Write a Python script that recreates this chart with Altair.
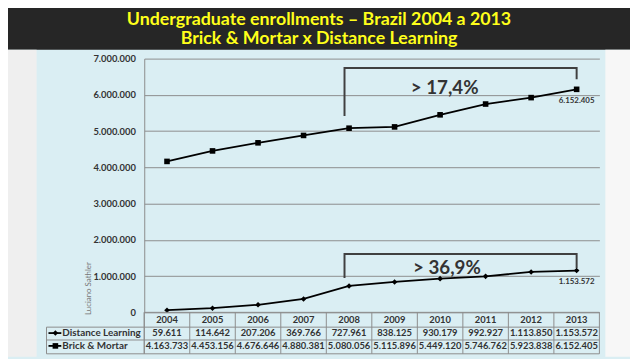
import altair as alt
import pandas as pd

years = [2004, 2005, 2006, 2007, 2008, 2009, 2010, 2011, 2012, 2013]
distance = [59611, 114642, 207206, 369766, 727961, 838125, 930179, 992927, 1113850, 1153572]
brick = [4163733, 4453156, 4676646, 4880381, 5080056, 5115896, 5449120, 5746762, 5923838, 6152405]
series_names = ["Distance Learning", "Brick & Mortar"]
title_lines = ["Undergraduate enrollments \u2013 Brazil 2004 a 2013",
               "Brick & Mortar x Distance Learning"]
y_ticks = [0, 1000000, 2000000, 3000000, 4000000, 5000000, 6000000, 7000000]
growth_labels = ["> 17,4%", "> 36,9%"]
growth_x = [2010.1, 2010.15]
growth_y = [6180000, 1220000]
# bracket paths (year, value)
bracket_bm = [(2007.9, 5420000), (2007.9, 6740000), (2013.0, 6740000), (2013.0, 6430000)]
bracket_dl = [(2007.9, 950000), (2007.9, 1610000), (2013.0, 1610000), (2013.0, 1220000)]
author = "Luciano Sathler"

FONT = "Lato"
TXT = "#333333"
GRID = "#8c8c8c"


def fmt(v):
    return f"{v:,}".replace(",", ".")


rows = []
for i, yr in enumerate(years):
    rows.append({"year": yr, "series": series_names[0], "value": distance[i], "label": fmt(distance[i])})
    rows.append({"year": yr, "series": series_names[1], "value": brick[i], "label": fmt(brick[i])})
df = pd.DataFrame(rows)

xs = alt.Scale(domain=[2003.5, 2013.5], nice=False, zero=False)
ys = alt.Scale(domain=[0, 7000000], nice=False)
X = alt.X("year:Q", scale=xs, axis=None)
YAX = alt.Axis(
    values=y_ticks,
    labelExpr="replace(format(datum.value, ','), /,/g, '.')",
    labelOverlap=False, tickCount=8,
    grid=True, gridColor=GRID, gridWidth=1, domainColor=GRID, domainWidth=1,
    ticks=False, labelFont=FONT, labelFontSize=9.5, labelFontWeight="bold",
    labelColor=TXT, labelPadding=9, title=None)
Y = alt.Y("value:Q", scale=ys, axis=YAX)

one = pd.DataFrame({"a": [0]})

# backgrounds
band = alt.Chart(one).mark_rect(color="#262626").encode(
    x=alt.value(-146), x2=alt.value(492), y=alt.value(-57), y2=alt.value(-9))
left_strip = alt.Chart(one).mark_rect(color="#efefef").encode(
    x=alt.value(-146), x2=alt.value(-109), y=alt.value(-9), y2=alt.value(302))
right_strip = alt.Chart(one).mark_rect(color="#f7f7f7").encode(
    x=alt.value(467), x2=alt.value(492), y=alt.value(-9), y2=alt.value(302))

title_df = pd.DataFrame({"t": title_lines, "i": [0, 1]})
title1 = alt.Chart(title_df[title_df.i == 0]).mark_text(
    font=FONT, fontSize=18, fontWeight="bold", color="#ffff1a", align="center", baseline="middle"
).encode(text="t:N", x=alt.value(177), y=alt.value(-39.5))
title2 = alt.Chart(title_df[title_df.i == 1]).mark_text(
    font=FONT, fontSize=18, fontWeight="bold", color="#ffff1a", align="center", baseline="middle"
).encode(text="t:N", x=alt.value(177), y=alt.value(-19.5))

lines = alt.Chart(df).mark_line(color="black", strokeWidth=1.8).encode(
    x=X, y=Y, detail="series:N")
points = alt.Chart(df).mark_point(filled=True, color="black", size=32, opacity=1).encode(
    x=X, y=Y,
    shape=alt.Shape("series:N", scale=alt.Scale(domain=series_names, range=["diamond", "square"]), legend=None),
)

# brackets
br_rows = []
for k, path in enumerate([bracket_bm, bracket_dl]):
    for j, (bx, by) in enumerate(path):
        br_rows.append({"b": k, "o": j, "year": bx, "value": by})
br_df = pd.DataFrame(br_rows)
brackets = alt.Chart(br_df).mark_line(color="#404040", strokeWidth=2).encode(
    x=X, y=Y, detail="b:N", order="o:Q")

gl_df = pd.DataFrame({"year": growth_x, "value": growth_y, "t": growth_labels})
growth = alt.Chart(gl_df).mark_text(font=FONT, fontSize=19, fontWeight="bold", color=TXT,
                                    align="center", baseline="middle").encode(
    x=X, y=Y, text="t:N")

last = df[df.year == years[-1]]
end_labels = alt.Chart(last).mark_text(font=FONT, fontSize=8, fontWeight="bold", color=TXT,
                                       align="center", baseline="middle", dy=12).encode(
    x=X, y=Y, text="label:N")

# table
row_y = {series_names[0]: 278, series_names[1]: 291}
year_df = pd.DataFrame({"year": years, "t": [str(y) for y in years]})
year_row = alt.Chart(year_df).mark_text(font=FONT, fontSize=9.5, fontWeight="bold", color=TXT,
                                        baseline="middle").encode(x=X, y=alt.value(265), text="t:N")
dl_row = alt.Chart(df[df.series == series_names[0]]).mark_text(
    font=FONT, fontSize=9.5, fontWeight="bold", color=TXT, baseline="middle").encode(
    x=X, y=alt.value(row_y[series_names[0]]), text="label:N")
bm_row = alt.Chart(df[df.series == series_names[1]]).mark_text(
    font=FONT, fontSize=9.5, fontWeight="bold", color=TXT, baseline="middle").encode(
    x=X, y=alt.value(row_y[series_names[1]]), text="label:N")

bounds = pd.DataFrame({"year": [y - 0.5 for y in years] + [years[-1] + 0.5]})
vlines = alt.Chart(bounds).mark_rule(color=GRID, strokeWidth=1).encode(
    x=X, y=alt.value(257), y2=alt.value(299))
axis_ext = alt.Chart(one).mark_rule(color=GRID).encode(x=alt.value(0), y=alt.value(257), y2=alt.value(299))
left_v = alt.Chart(one).mark_rule(color=GRID).encode(x=alt.value(-99), y=alt.value(272), y2=alt.value(299))
h0 = alt.Chart(one).mark_rule(color=GRID).encode(x=alt.value(0), x2=alt.value(461), y=alt.value(257))
h1 = alt.Chart(one).mark_rule(color=GRID).encode(x=alt.value(-99), x2=alt.value(461), y=alt.value(272))
h2 = alt.Chart(one).mark_rule(color=GRID).encode(x=alt.value(-99), x2=alt.value(461), y=alt.value(285))
h3 = alt.Chart(one).mark_rule(color=GRID).encode(x=alt.value(-99), x2=alt.value(461), y=alt.value(299))

names_df = pd.DataFrame({"t": series_names})
name1 = alt.Chart(names_df.iloc[[0]]).mark_text(font=FONT, fontSize=10, fontWeight="bold", color=TXT,
                                                 align="left", baseline="middle").encode(
    text="t:N", x=alt.value(-83), y=alt.value(278))
name2 = alt.Chart(names_df.iloc[[1]]).mark_text(font=FONT, fontSize=10, fontWeight="bold", color=TXT,
                                                 align="left", baseline="middle").encode(
    text="t:N", x=alt.value(-83), y=alt.value(291))
sym_l1 = alt.Chart(one).mark_rule(color="black", strokeWidth=1.8).encode(
    x=alt.value(-97), x2=alt.value(-84), y=alt.value(278))
sym_l2 = alt.Chart(one).mark_rule(color="black", strokeWidth=1.8).encode(
    x=alt.value(-97), x2=alt.value(-84), y=alt.value(291))
sym_p1 = alt.Chart(one).mark_point(shape="diamond", filled=True, color="black", size=32, opacity=1).encode(
    x=alt.value(-90), y=alt.value(278))
sym_p2 = alt.Chart(one).mark_point(shape="square", filled=True, color="black", size=32, opacity=1).encode(
    x=alt.value(-90), y=alt.value(291))

author_df = pd.DataFrame({"t": [author]})
author_txt = alt.Chart(author_df).mark_text(font=FONT, fontSize=8, color="#777777", angle=270,
                                             align="center", baseline="middle").encode(
    text="t:N", x=alt.value(-56), y=alt.value(233))

chart = alt.layer(
    band, left_strip, right_strip, title1, title2,
    lines, brackets, points, growth, end_labels,
    vlines, axis_ext, left_v, h0, h1, h2, h3,
    year_row, dl_row, bm_row,
    sym_l1, sym_l2, sym_p1, sym_p2, name1, name2, author_txt,
).properties(
    width=461, height=257,
    autosize=alt.AutoSizeParams(type="none"),
    padding={"left": 138, "top": 49, "right": 31, "bottom": 45},
    background="#daeef3",
).configure_view(stroke=None)

chart.save("out.html", embed_options={"renderer": "svg", "actions": False})
